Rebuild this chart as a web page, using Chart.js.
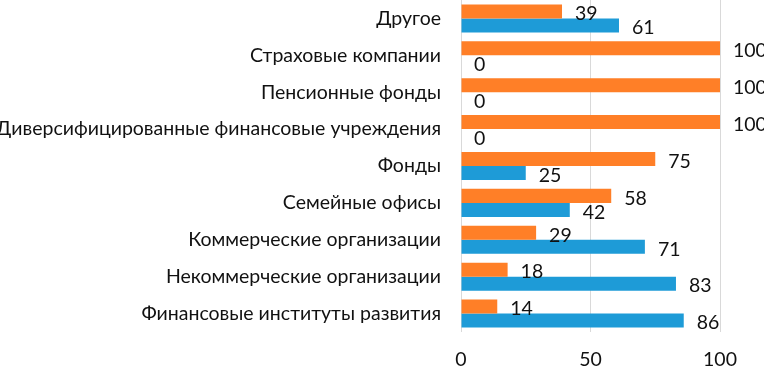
<!DOCTYPE html>
<html>
<head>
<meta charset="utf-8">
<script src="https://cdn.jsdelivr.net/npm/chart.js@4"></script>
<style>
  html, body { margin: 0; padding: 0; background: #fff; }
  #wrap { width: 764px; height: 366px; position: relative; }
</style>
</head>
<body>
<div id="wrap"><canvas id="chart"></canvas></div>
<script>
// Data
const categories = [
    'Другое',
    'Страховые компании',
    'Пенсионные фонды',
    'Диверсифицированные финансовые учреждения',
    'Фонды',
    'Семейные офисы',
    'Коммерческие организации',
    'Некоммерческие организации',
    'Финансовые институты развития'
];
const orangeValues = [39, 100, 100, 100, 75, 58, 29, 18, 14];
const blueValues = [61, 0, 0, 0, 25, 42, 71, 83, 86];
const xTicks = [0, 50, 100];

const FONT = 'Lato, "Open Sans", sans-serif';
const SIZE = 19.5;

// Draw the value next to the end of each bar
const valueLabels = {
    id: 'valueLabels',
    afterDatasetsDraw(chart) {
        const ctx = chart.ctx;
        ctx.save();
        ctx.font = SIZE + 'px ' + FONT;
        ctx.fillStyle = '#111';
        ctx.textAlign = 'left';
        ctx.textBaseline = 'middle';
        chart.data.datasets.forEach((ds, i) => {
            chart.getDatasetMeta(i).data.forEach((bar, j) => {
                ctx.fillText(String(ds.data[j]), bar.x + 13, bar.y + 2.5);
            });
        });
        ctx.restore();
    }
};

new Chart(document.getElementById('chart'), {
    type: 'bar',
    data: {
        labels: categories,
        datasets: [
            { data: orangeValues, backgroundColor: '#FF7F27' },
            { data: blueValues, backgroundColor: '#1E9BD7' }
        ]
    },
    options: {
        indexAxis: 'y',
        responsive: true,
        maintainAspectRatio: false,
        animation: false,
        events: [],
        categoryPercentage: 0.76,
        barPercentage: 1,
        layout: { padding: { top: 0, right: 44, bottom: 0, left: 0 } },
        plugins: { legend: { display: false }, tooltip: { enabled: false } },
        scales: {
            x: {
                min: 0,
                max: 100,
                afterBuildTicks: scale => { scale.ticks = xTicks.map(v => ({ value: v })); },
                afterFit: scale => { scale.height = 34; scale.paddingLeft = 0; scale.paddingRight = 0; },
                grid: { color: '#d9d9d9', drawTicks: false },
                border: { display: false },
                ticks: { font: { family: FONT, size: SIZE }, color: '#111', padding: 16 }
            },
            y: {
                afterFit: scale => { scale.width = 461; scale.paddingTop = 0; scale.paddingBottom = 0; },
                grid: { display: false, drawTicks: false },
                border: { display: false },
                ticks: { font: { family: FONT, size: SIZE }, color: '#111', padding: 20, autoSkip: false }
            }
        }
    },
    plugins: [valueLabels]
});
</script>
</body>
</html>
